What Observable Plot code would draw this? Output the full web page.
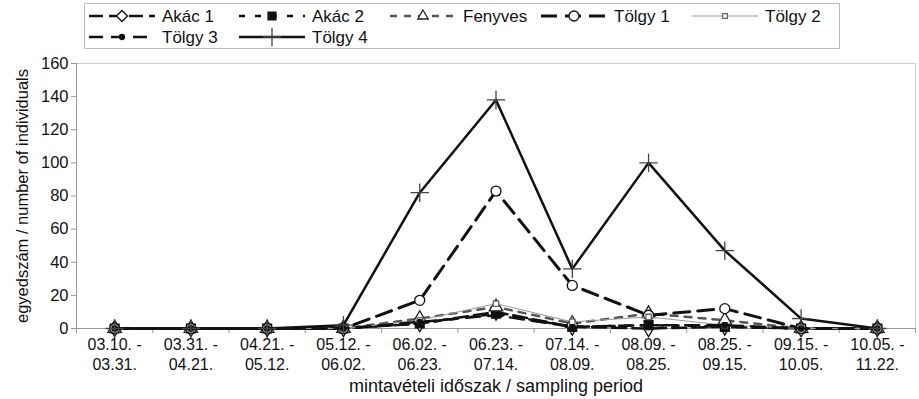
<!DOCTYPE html>
<html><head><meta charset="utf-8">
<script src="https://cdn.jsdelivr.net/npm/d3@7"></script>
<script src="https://cdn.jsdelivr.net/npm/@observablehq/plot@0.6"></script>
<style>
body{margin:0;background:#fff;font-family:"Liberation Sans",Arial,sans-serif;}
#wrap{position:relative;width:919px;height:399px;overflow:hidden;}
#chart{position:absolute;left:0;top:0;}
#legend{position:absolute;left:0;top:0;}
</style></head><body>
<div id="wrap"><div id="chart"></div><svg id="legend" width="919" height="55"></svg></div>
<script>
// ---- data ----
const periods = ["03.10. -\n03.31.", "03.31. -\n04.21.", "04.21. -\n05.12.", "05.12. -\n06.02.", "06.02. -\n06.23.", "06.23. -\n07.14.", "07.14. -\n08.09.", "08.09. -\n08.25.", "08.25. -\n09.15.", "09.15. -\n10.05.", "10.05. -\n11.22."];
const seriesNames = ["Akác 1", "Akác 2", "Fenyves", "Tölgy 1", "Tölgy 2", "Tölgy 3", "Tölgy 4"];
const akac1   = [0, 0, 0, 0, 3, 10, 1, 0, 1, 0, 0];
const akac2   = [0, 0, 0, 0, 3, 9, 1, 2, 1, 0, 0];
const fenyves = [0, 0, 0, 0, 6, 13, 3, 9, 5, 0, 0];
const tolgy1  = [0, 0, 0, 0, 17, 83, 26, 8, 12, 0, 0];
const tolgy2  = [0, 0, 0, 0, 5, 15, 4, 7, 2, 0, 0];
const tolgy3  = [0, 0, 0, 0, 4, 8, 1, 2, 2, 0, 0];
const tolgy4  = [0, 0, 0, 2, 82, 138, 36, 100, 47, 6, 0];
const yTicks = [0, 20, 40, 60, 80, 100, 120, 140, 160];
const yLabel = "egyedszám / number of individuals";
const xLabel = "mintavételi időszak / sampling period";

const values = [akac1, akac2, fenyves, tolgy1, tolgy2, tolgy3, tolgy4];
// ---- styles ----
const styles = [
  {stroke:"#111", width:2.5, dash:"14,6", symbol:"diamond", r:5, fill:"white", mstroke:"#111"},
  {stroke:"#111", width:2.5, dash:"6,10", symbol:"square", r:5, fill:"#111", mstroke:"#111"},
  {stroke:"#555", width:2.5, dash:"7,7", symbol:"triangle", r:5, fill:"white", mstroke:"#222"},
  {stroke:"#111", width:3, dash:"16,8", symbol:"circle", r:5, fill:"white", mstroke:"#111"},
  {stroke:"#999", width:1, dash:null, symbol:"square", r:3, fill:"white", mstroke:"#666"},
  {stroke:"#111", width:2.5, dash:"14,8", symbol:"circle", r:2.5, fill:"#111", mstroke:"#111"},
  {stroke:"#111", width:2.5, dash:null, symbol:"plus", r:6, fill:"none", mstroke:"#444"}
];

const marks = [
  Plot.frame({stroke:"#cfcfcf"}),
  Plot.axisY({ticks: yTicks, tickSize: 5, tickPadding: 3, stroke:"#999", label: yLabel, labelAnchor:"center", labelArrow:"none", labelOffset: 60, fontSize: 16.5}),
  Plot.ruleX([-0.5], {stroke:"#999"}),
  Plot.ruleY([0], {stroke:"#999"}),
  Plot.axisX({ticks: d3.range(-0.5, 11, 1), tickFormat: () => "", tickSize: 5, stroke:"#999", label: null}),
  Plot.axisX({ticks: d3.range(0, 11), tickFormat: i => periods[i], tickSize: 0, tickPadding: 7, lineHeight: 1.25, fontSize: 16, label: null}),
  Plot.axisX({ticks: [], label: xLabel, labelAnchor:"center", labelArrow:"none", labelOffset: 63, fontSize: 18})
];
values.forEach((vals, k) => {
  const s = styles[k];
  marks.push(Plot.line(vals, {x: (d, i) => i, y: d => d, stroke: s.stroke, strokeWidth: s.width, strokeDasharray: s.dash}));
  marks.push(Plot.dot(vals, {x: (d, i) => i, y: d => d, symbol: s.symbol, r: s.r, fill: s.fill, stroke: s.mstroke, strokeWidth: 1.3}));
});

const chart = Plot.plot({
  width: 919, height: 399,
  marginLeft: 76, marginRight: 4, marginTop: 63, marginBottom: 71,
  style: {fontFamily: '"Liberation Sans", Arial, sans-serif', fontSize: "16px", color: "#111", background: "transparent"},
  x: {type: "linear", domain: [-0.5, 10.5]},
  y: {domain: [0, 160]},
  marks
});
document.getElementById("chart").appendChild(chart);

// ---- legend ----
const leg = d3.select("#legend");
leg.append("rect").attr("x", 84.5).attr("y", 3.5).attr("width", 755).attr("height", 45).attr("fill", "white").attr("stroke", "#bbb");
const pos = [[89,16],[239,16],[390,16],[541,16],[692,16],[89,37],[239,37]];
const symMap = {diamond: d3.symbolDiamond2, square: d3.symbolSquare2, triangle: d3.symbolTriangle2, circle: d3.symbolCircle, plus: d3.symbolPlus};
seriesNames.forEach((name, k) => {
  const s = styles[k]; const [x, y] = pos[k];
  const g = leg.append("g").attr("transform", `translate(${x},${y})`);
  g.append("line").attr("x1", 0).attr("x2", 66).attr("y1", 0).attr("y2", 0)
    .attr("stroke", s.stroke).attr("stroke-width", s.width).attr("stroke-dasharray", s.dash);
  const size = Math.PI * s.r * s.r;
  g.append("path").attr("transform", "translate(33,0)").attr("d", d3.symbol(symMap[s.symbol], size)())
    .attr("fill", s.fill).attr("stroke", s.mstroke).attr("stroke-width", 1.3);
  g.append("text").attr("x", 73).attr("y", 0).attr("dy", "0.35em").attr("font-size", 17).attr("fill", "#111").text(name);
});
</script></body></html>
